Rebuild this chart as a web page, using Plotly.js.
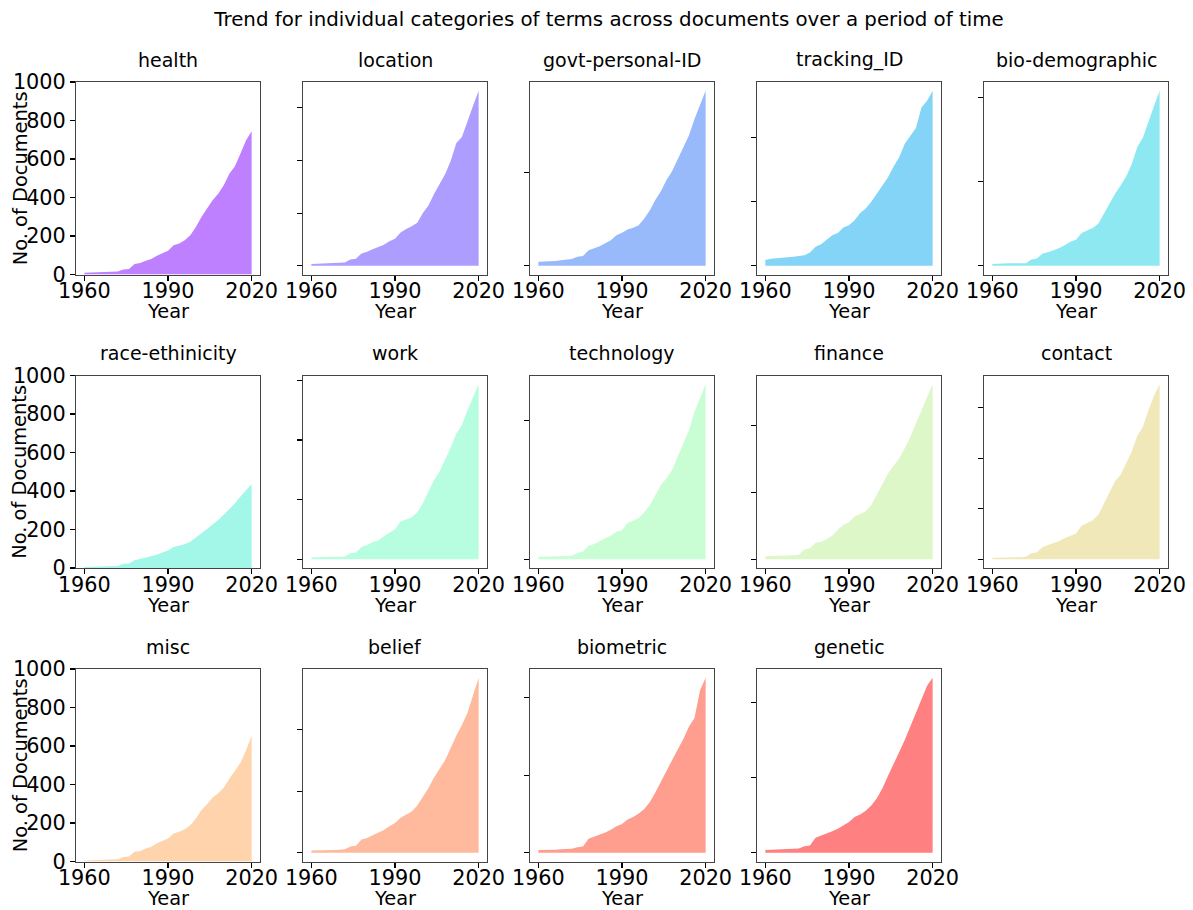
<!DOCTYPE html>
<html>
<head>
<meta charset="utf-8">
<script src="https://cdn.plot.ly/plotly-3.0.1.min.js"></script>
<style>html,body{margin:0;padding:0;background:#fff;}#chart{width:1193px;height:910px;}</style>
</head>
<body>
<div id="chart"></div>
<script>
const years = [1960,1962,1964,1966,1968,1970,1972,1974,1976,1978,1980,1982,1984,1986,1988,1990,1992,1994,1996,1998,2000,2002,2004,2006,2008,2010,2012,2014,2016,2018,2020];

const categories = ["health","location","govt-personal-ID","tracking_ID","bio-demographic","race-ethinicity","work","technology","finance","contact","misc","belief","biometric","genetic"];

const healthVals = [9,10,10,12,14,14,16,26,28,54,60,71,80,97,112,123,152,161,178,204,247,299,343,386,420,464,524,562,628,697,744];
const locationVals = [7,8,9,9,10,11,12,24,27,47,53,63,70,80,93,103,126,140,150,163,200,229,273,309,349,399,466,489,552,608,665];
const govtPersonalIDVals = [21,21,23,25,29,32,36,48,52,84,93,105,121,137,164,177,195,204,218,254,298,355,402,462,509,575,641,700,789,869,941];
const trackingIDVals = [18,22,23,24,26,28,30,33,41,59,67,80,95,102,119,126,142,164,178,199,224,250,276,309,338,380,405,429,493,514,545];
const bioDemographicVals = [4,5,5,6,6,6,6,15,17,29,32,37,42,49,57,62,78,84,90,100,124,148,171,191,212,242,282,305,345,380,416];
const raceEthinicityVals = [5,6,6,7,8,9,10,22,24,40,47,53,60,69,81,91,109,116,124,136,160,181,202,224,250,276,305,336,371,405,436];
const workVals = [6,7,7,7,8,8,9,20,23,41,48,58,63,77,90,101,127,133,141,157,188,227,266,294,333,375,422,450,500,545,587];
const technologyVals = [7,7,8,8,9,9,10,18,22,39,44,52,58,68,79,83,104,112,118,135,156,185,214,233,257,295,335,371,424,462,503];
const financeVals = [9,9,10,10,11,12,13,29,33,49,52,60,70,88,103,110,128,135,143,162,192,225,256,278,301,331,365,405,445,484,522];
const contactVals = [3,3,3,4,4,4,5,12,14,24,28,32,36,42,47,51,66,72,77,88,111,134,154,167,190,213,244,262,295,324,346];
const miscVals = [5,6,7,8,10,11,12,24,26,50,55,67,76,95,107,119,145,154,168,188,223,268,297,332,354,383,430,470,513,578,655];
const beliefVals = [7,7,8,9,9,10,11,20,23,43,48,57,66,74,86,97,114,123,134,154,182,211,245,274,302,342,382,416,456,513,570];
const biometricVals = [7,7,8,8,9,9,10,14,16,36,41,45,52,59,68,74,86,92,101,113,131,156,185,212,239,266,293,325,347,419,451];
const geneticVals = [7,8,8,9,10,10,11,17,19,40,45,50,57,64,74,82,95,102,112,126,145,172,205,235,268,300,335,375,410,445,466];

const seriesList = [healthVals, locationVals, govtPersonalIDVals, trackingIDVals, bioDemographicVals, raceEthinicityVals, workVals, technologyVals, financeVals, contactVals, miscVals, beliefVals, biometricVals, geneticVals];

// hidden-label y tick steps for each panel (0 => fixed 0..1000 labelled axis)
const yTickStep = [0,200,500,200,200,0,200,200,200,100,0,200,200,200];

const xTickVals = [1960,1990,2020];
const yTickVals = [0,200,400,600,800,1000];

function rainbow(x){
  const idx = Math.min(255, Math.floor(x*256));
  const t = idx/255;
  const r = Math.min(1, Math.abs(2*t-0.5));
  const g = Math.max(0, Math.sin(Math.PI*t));
  const b = Math.max(0, Math.cos(Math.PI*t/2));
  const f = v => Math.round((0.5*v + 0.5)*255);
  return 'rgb(' + f(r) + ',' + f(g) + ',' + f(b) + ')';
}

const W = 1193, H = 910;
const FONT = '"DejaVu Sans", Arial, sans-serif';
const TICKSIZE = 20.8;
const traces = [];
const layout = {
  width: W, height: H,
  margin: {l:0, r:0, t:0, b:0},
  paper_bgcolor: '#fff', plot_bgcolor: '#fff',
  showlegend: false,
  font: {family: FONT, color: '#000'},
  title: {text: 'Trend for individual categories of terms across documents over a period of time',
          x: 609/W, xanchor: 'center', xref: 'paper', y: 1 - 19/H, yanchor: 'middle', yref: 'container',
          font: {family: FONT, size: 19.8, color: '#000'}},
  annotations: []
};

categories.forEach((name, i) => {
  const col = i % 5, row = Math.floor(i / 5);
  const left = 76 + 227*col, right = left + 184;
  const top = 82 + 293.5*row, bottom = top + 192.5;
  const ax = i === 0 ? '' : String(i+1);
  const data = seriesList[i];
  const color = rainbow(i/13);
  traces.push({
    type: 'scatter', mode: 'lines', x: years, y: data,
    xaxis: 'x' + ax, yaxis: 'y' + ax,
    line: {width: 0, color: color}, fill: 'tozeroy', fillcolor: color,
    hoverinfo: 'skip'
  });
  layout['xaxis' + ax] = {
    domain: [left/W, right/W], anchor: 'y' + ax,
    range: [1957, 2023], tickvals: xTickVals, ticktext: xTickVals.map(String),
    ticks: 'outside', ticklen: 5, tickwidth: 1.1, tickcolor: '#000',
    ticklabelstandoff: -7,
    showline: true, mirror: true, linecolor: '#444', linewidth: 1,
    showgrid: false, zeroline: false,
    tickfont: {family: FONT, size: TICKSIZE, color: '#000'}
  };
  const step = yTickStep[i];
  let yax;
  if (step === 0) {
    yax = {range: [0, 1000], tickvals: yTickVals, ticktext: yTickVals.map(String), showticklabels: true};
  } else {
    const M = Math.max.apply(null, data);
    yax = {range: [-0.05*M, 1.05*M], tick0: 0, dtick: step, showticklabels: false};
  }
  layout['yaxis' + ax] = Object.assign(yax, {
    domain: [1 - bottom/H, 1 - top/H], anchor: 'x' + ax,
    ticks: 'outside', ticklen: 5, tickwidth: 1.1, tickcolor: '#000',
    showline: true, mirror: true, linecolor: '#444', linewidth: 1,
    showgrid: false, zeroline: false,
    tickfont: {family: FONT, size: TICKSIZE, color: '#000'}
  });
  const cx = (left + right)/2;
  layout.annotations.push({
    text: name, xref: 'paper', yref: 'paper', x: cx/W, y: 1 - (top - 22)/H,
    xanchor: 'center', yanchor: 'middle', showarrow: false,
    font: {family: FONT, size: 19, color: '#000'}
  });
  layout.annotations.push({
    text: 'Year', xref: 'paper', yref: 'paper', x: cx/W, y: 1 - (bottom + 37)/H,
    xanchor: 'center', yanchor: 'middle', showarrow: false,
    font: {family: FONT, size: 19.4, color: '#000'}
  });
  if (col === 0) {
    layout.annotations.push({
      text: 'No. of Documents', xref: 'paper', yref: 'paper', x: 20/W, y: 1 - ((top+bottom)/2)/H,
      xanchor: 'center', yanchor: 'middle', textangle: -90, showarrow: false,
      font: {family: FONT, size: 19.4, color: '#000'}
    });
  }
});

Plotly.newPlot('chart', traces, layout, {staticPlot: true, displayModeBar: false});
</script>
</body>
</html>
